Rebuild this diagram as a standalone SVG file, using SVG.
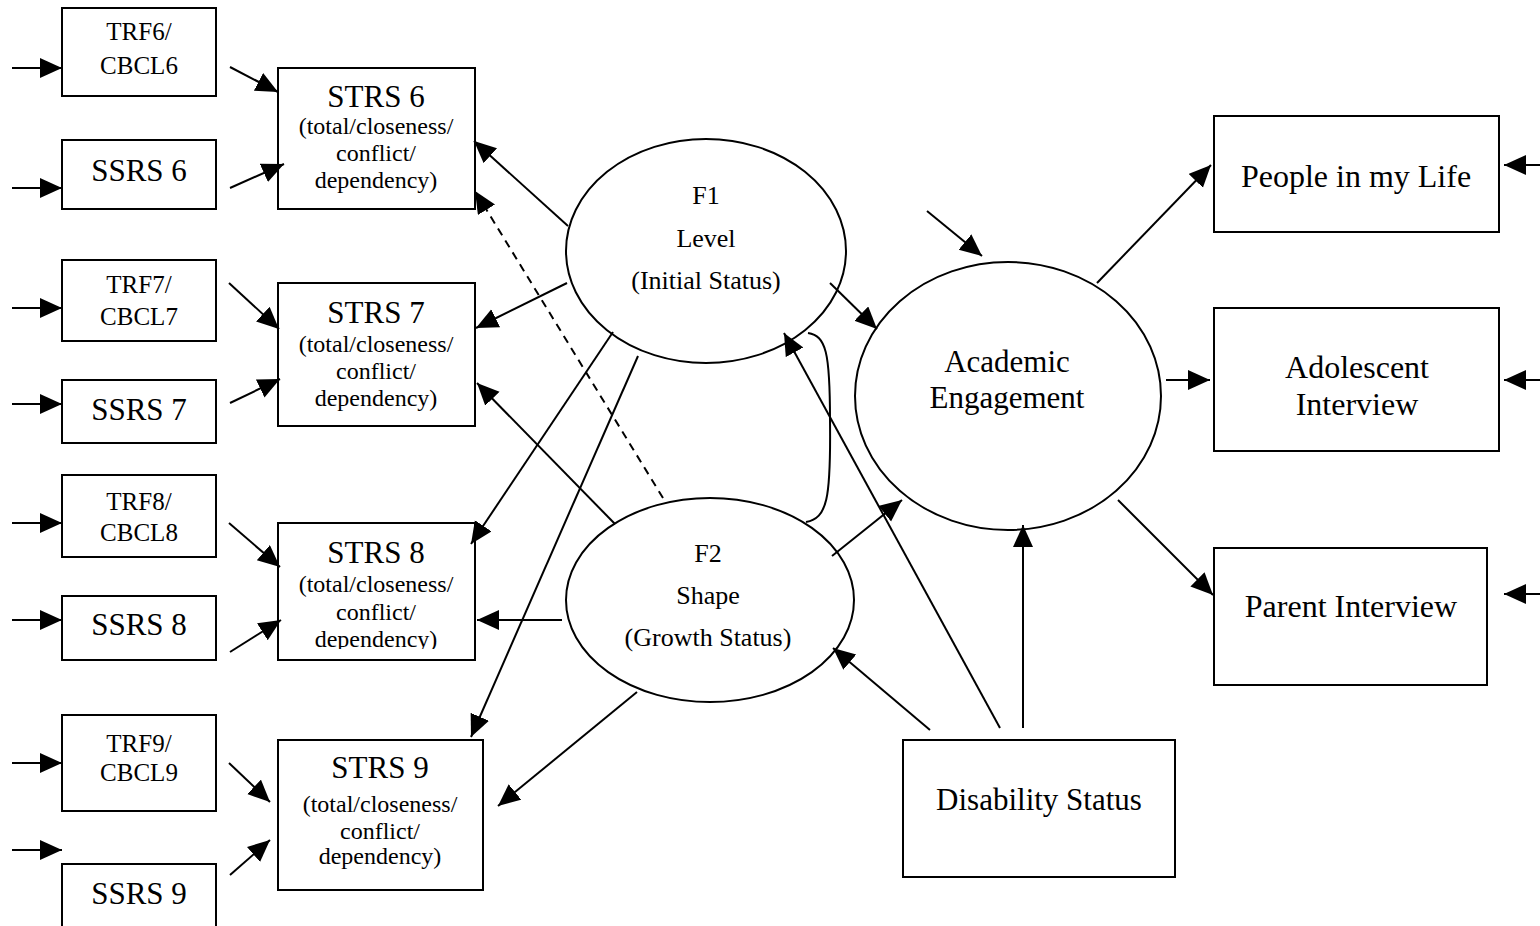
<svg xmlns="http://www.w3.org/2000/svg" width="1540" height="926" viewBox="0 0 1540 926">
  <style>
    .box { fill: #fff; stroke: #000; stroke-width: 2; }
    .ell { fill: #fff; stroke: #000; stroke-width: 2; }
    .t { font-family: "Liberation Serif", "Times New Roman", serif; fill: #000; text-anchor: middle; }
    .sm { font-size: 25px; }
    .md { font-size: 26px; }
    .lg { font-size: 31px; }
    .sub { font-size: 24px; }
    .rt { font-size: 32px; }
    .arr { stroke: #000; stroke-width: 2; fill: none; marker-end: url(#ah); }
    .dash { stroke-dasharray: 8 6; }
    .plain { stroke: #000; stroke-width: 2; fill: none; }
  </style>
  <defs>
    <marker id="ah" markerUnits="userSpaceOnUse" markerWidth="24" markerHeight="22" refX="22" refY="10" orient="auto">
      <path d="M0,0 L22,10 L0,20 z" fill="#000"/>
    </marker>
    <clipPath id="clip8">
      <rect x="278" y="523" width="197" height="126"/>
    </clipPath>
  </defs>
  <rect width="1540" height="926" fill="#fff"/>

  <!-- indicator boxes -->
  <g id="trf6"><rect class="box" x="62" y="8" width="154" height="88"/>
    <text class="t sm" x="139" y="40">TRF6/</text><text class="t sm" x="139" y="74">CBCL6</text></g>
  <g id="ssrs6"><rect class="box" x="62" y="140" width="154" height="69"/>
    <text class="t lg" x="139" y="181">SSRS 6</text></g>
  <g id="trf7"><rect class="box" x="62" y="260" width="154" height="81"/>
    <text class="t sm" x="139" y="293">TRF7/</text><text class="t sm" x="139" y="325">CBCL7</text></g>
  <g id="ssrs7"><rect class="box" x="62" y="380" width="154" height="63"/>
    <text class="t lg" x="139" y="420">SSRS 7</text></g>
  <g id="trf8"><rect class="box" x="62" y="475" width="154" height="82"/>
    <text class="t sm" x="139" y="510">TRF8/</text><text class="t sm" x="139" y="541">CBCL8</text></g>
  <g id="ssrs8"><rect class="box" x="62" y="596" width="154" height="64"/>
    <text class="t lg" x="139" y="635">SSRS 8</text></g>
  <g id="trf9"><rect class="box" x="62" y="715" width="154" height="96"/>
    <text class="t sm" x="139" y="752">TRF9/</text><text class="t sm" x="139" y="781">CBCL9</text></g>
  <g id="ssrs9"><rect class="box" x="62" y="864" width="154" height="80"/>
    <text class="t lg" x="139" y="904">SSRS 9</text></g>

  <!-- STRS boxes -->
  <g id="strs6"><rect class="box" x="278" y="68" width="197" height="141"/>
    <text class="t lg" x="376" y="107">STRS 6</text>
    <text class="t sub" x="376" y="134">(total/closeness/</text>
    <text class="t sub" x="376" y="161">conflict/</text>
    <text class="t sub" x="376" y="188">dependency)</text></g>
  <g id="strs7"><rect class="box" x="278" y="283" width="197" height="143"/>
    <text class="t lg" x="376" y="323">STRS 7</text>
    <text class="t sub" x="376" y="352">(total/closeness/</text>
    <text class="t sub" x="376" y="379">conflict/</text>
    <text class="t sub" x="376" y="406">dependency)</text></g>
  <g id="strs8"><rect class="box" x="278" y="523" width="197" height="137"/>
    <g clip-path="url(#clip8)">
      <text class="t lg" x="376" y="563">STRS 8</text>
      <text class="t sub" x="376" y="592">(total/closeness/</text>
      <text class="t sub" x="376" y="620">conflict/</text>
      <text class="t sub" x="376" y="647">dependency)</text>
    </g></g>
  <g id="strs9"><rect class="box" x="278" y="740" width="205" height="150"/>
    <text class="t lg" x="380" y="778">STRS 9</text>
    <text class="t sub" x="380" y="812">(total/closeness/</text>
    <text class="t sub" x="380" y="839">conflict/</text>
    <text class="t sub" x="380" y="864">dependency)</text></g>

  <!-- latent factors -->
  <g id="f1"><ellipse class="ell" cx="706" cy="251" rx="140" ry="112"/>
    <text class="t md" x="706" y="204">F1</text>
    <text class="t md" x="706" y="247">Level</text>
    <text class="t md" x="706" y="289">(Initial Status)</text></g>
  <g id="f2"><ellipse class="ell" cx="710" cy="600" rx="144" ry="102"/>
    <text class="t md" x="708" y="562">F2</text>
    <text class="t md" x="708" y="604">Shape</text>
    <text class="t md" x="708" y="646">(Growth Status)</text></g>
  <g id="academic"><ellipse class="ell" cx="1008" cy="396" rx="153" ry="134"/>
    <text class="t lg" x="1007" y="372">Academic</text>
    <text class="t lg" x="1007" y="408">Engagement</text></g>

  <!-- outcome boxes -->
  <g id="people"><rect class="box" x="1214" y="116" width="285" height="116"/>
    <text class="t rt" x="1356" y="187">People in my Life</text></g>
  <g id="adolescent"><rect class="box" x="1214" y="308" width="285" height="143"/>
    <text class="t rt" x="1357" y="378">Adolescent</text>
    <text class="t rt" x="1357" y="415">Interview</text></g>
  <g id="parent"><rect class="box" x="1214" y="548" width="273" height="137"/>
    <text class="t rt" x="1351" y="617">Parent Interview</text></g>
  <g id="disability"><rect class="box" x="903" y="740" width="272" height="137"/>
    <text class="t lg" x="1039" y="810">Disability Status</text></g>

  <!-- connectors -->
  <g id="connectors">
    <line class="arr" x1="12" y1="68" x2="62" y2="68"/>
    <line class="arr" x1="12" y1="188" x2="62" y2="188"/>
    <line class="arr" x1="12" y1="308" x2="62" y2="308"/>
    <line class="arr" x1="12" y1="404" x2="62" y2="404"/>
    <line class="arr" x1="12" y1="523" x2="62" y2="523"/>
    <line class="arr" x1="12" y1="620" x2="62" y2="620"/>
    <line class="arr" x1="12" y1="763" x2="62" y2="763"/>
    <line class="arr" x1="12" y1="850" x2="62" y2="850"/>

    <line class="arr" x1="230" y1="67" x2="278" y2="92"/>
    <line class="arr" x1="230" y1="188" x2="284" y2="164"/>
    <line class="arr" x1="229" y1="283" x2="279" y2="329"/>
    <line class="arr" x1="230" y1="403" x2="280" y2="379"/>
    <line class="arr" x1="229" y1="523" x2="280" y2="567"/>
    <line class="arr" x1="230" y1="652" x2="281" y2="620"/>
    <line class="arr" x1="229" y1="763" x2="270" y2="802"/>
    <line class="arr" x1="230" y1="875" x2="270" y2="840"/>

    <line class="arr" x1="568" y1="226" x2="474" y2="141"/>
    <line class="arr" x1="567" y1="283" x2="476" y2="328"/>
    <line class="arr" x1="613" y1="332" x2="471" y2="544"/>
    <line class="arr" x1="638" y1="356" x2="471" y2="737"/>

    <line class="arr" x1="615" y1="524" x2="477" y2="383"/>
    <line class="arr" x1="562" y1="620" x2="477" y2="620"/>
    <line class="arr" x1="637" y1="692" x2="498" y2="806"/>
    <line class="arr dash" x1="663" y1="498" x2="475" y2="191"/>

    <path class="plain" d="M808,333 C826,336 830,352 830,420 C831,500 827,518 806,522"/>

    <line class="arr" x1="830" y1="283" x2="877" y2="329"/>
    <line class="arr" x1="832" y1="556" x2="902" y2="500"/>
    <line class="arr" x1="927" y1="211" x2="982" y2="256"/>
    <line class="arr" x1="1000" y1="728" x2="784" y2="333"/>
    <line class="arr" x1="930" y1="730" x2="833" y2="648"/>
    <line class="arr" x1="1023" y1="728" x2="1023" y2="525"/>

    <line class="arr" x1="1097" y1="283" x2="1211" y2="165"/>
    <line class="arr" x1="1166" y1="380" x2="1210" y2="380"/>
    <line class="arr" x1="1118" y1="500" x2="1213" y2="595"/>

    <line class="arr" x1="1540" y1="165" x2="1504" y2="165"/>
    <line class="arr" x1="1540" y1="380" x2="1504" y2="380"/>
    <line class="arr" x1="1540" y1="594" x2="1504" y2="594"/>
  </g>
</svg>
